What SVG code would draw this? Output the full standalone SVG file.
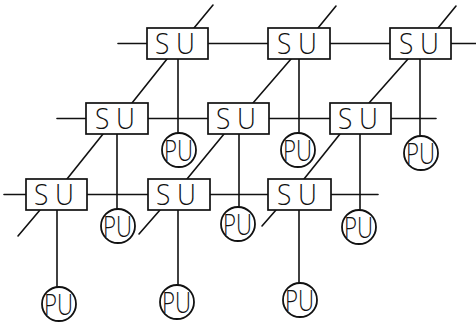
<svg xmlns="http://www.w3.org/2000/svg" width="476" height="326" viewBox="0 0 476 326">
  <style>
    .wire { stroke: #111; stroke-width: 1.6; fill: none; stroke-linecap: round; }
    .su rect { fill: #fff; stroke: #111; stroke-width: 1.7; }
    .pu circle { fill: #fff; stroke: #111; stroke-width: 1.8; }
    .lbl { font-family: "Open Sans", "Liberation Sans", Arial, sans-serif; font-weight: 300; font-size: 29px; fill: #111; }
  </style>
  <rect width="476" height="326" fill="#fff"/>

  <!-- connectors: row buses, stems to processing units, diagonal links between rows -->
  <g id="connectors" class="wire">
    <!-- horizontal row lines -->
    <line x1="118" y1="43.5" x2="476" y2="43.5"/>
    <line x1="57" y1="118.5" x2="436" y2="118.5"/>
    <line x1="4" y1="194.5" x2="378" y2="194.5"/>
    <!-- stems, row 1 -->
    <line x1="178" y1="59" x2="178" y2="133"/>
    <line x1="299" y1="59" x2="299" y2="133"/>
    <line x1="420" y1="59" x2="420" y2="136"/>
    <!-- stems, row 2 -->
    <line x1="117" y1="134" x2="117" y2="209"/>
    <line x1="239" y1="134" x2="239" y2="207"/>
    <line x1="360" y1="134" x2="360" y2="210"/>
    <!-- stems, row 3 -->
    <line x1="57" y1="210" x2="57" y2="287"/>
    <line x1="178" y1="210" x2="178" y2="285"/>
    <line x1="299" y1="210" x2="299" y2="283"/>
    <!-- diagonal chain, column 0 -->
    <line x1="213" y1="5" x2="194" y2="28"/>
    <line x1="167" y1="59" x2="132" y2="103"/>
    <line x1="103" y1="134" x2="67" y2="179"/>
    <line x1="40" y1="210" x2="18" y2="236"/>
    <!-- diagonal chain, column 1 -->
    <line x1="336" y1="6" x2="318" y2="28"/>
    <line x1="291" y1="59" x2="253" y2="103"/>
    <line x1="224" y1="134" x2="187" y2="179"/>
    <line x1="160" y1="210" x2="139" y2="234"/>
    <!-- diagonal chain, column 2 -->
    <line x1="456" y1="6" x2="438" y2="28"/>
    <line x1="408" y1="59" x2="369" y2="103"/>
    <line x1="340" y1="134" x2="304" y2="179"/>
    <line x1="276" y1="210" x2="262" y2="226"/>
  </g>

  <!-- switching units -->
  <g id="su-r1c0" class="su"><rect x="147" y="28" width="61" height="31"/><text class="lbl" x="155" y="54" textLength="40" lengthAdjust="spacingAndGlyphs">S U</text></g>
  <g id="su-r1c1" class="su"><rect x="268" y="28" width="62" height="31"/><text class="lbl" x="277" y="54" textLength="40" lengthAdjust="spacingAndGlyphs">S U</text></g>
  <g id="su-r1c2" class="su"><rect x="390" y="28" width="61" height="31"/><text class="lbl" x="399" y="54" textLength="40" lengthAdjust="spacingAndGlyphs">S U</text></g>

  <g id="su-r2c0" class="su"><rect x="86" y="103" width="62" height="31"/><text class="lbl" x="95" y="129" textLength="40" lengthAdjust="spacingAndGlyphs">S U</text></g>
  <g id="su-r2c1" class="su"><rect x="208" y="103" width="61" height="31"/><text class="lbl" x="216" y="129" textLength="40" lengthAdjust="spacingAndGlyphs">S U</text></g>
  <g id="su-r2c2" class="su"><rect x="330" y="103" width="61" height="31"/><text class="lbl" x="338" y="129" textLength="40" lengthAdjust="spacingAndGlyphs">S U</text></g>

  <g id="su-r3c0" class="su"><rect x="26" y="179" width="61" height="31"/><text class="lbl" x="34" y="205" textLength="40" lengthAdjust="spacingAndGlyphs">S U</text></g>
  <g id="su-r3c1" class="su"><rect x="148" y="179" width="62" height="31"/><text class="lbl" x="156" y="205" textLength="40" lengthAdjust="spacingAndGlyphs">S U</text></g>
  <g id="su-r3c2" class="su"><rect x="268" y="179" width="63" height="31"/><text class="lbl" x="277" y="205" textLength="40" lengthAdjust="spacingAndGlyphs">S U</text></g>

  <!-- processing units -->
  <g id="pu-r1c0" class="pu"><circle cx="179" cy="150" r="17"/><text class="lbl" x="164" y="161" textLength="29" lengthAdjust="spacingAndGlyphs">PU</text></g>
  <g id="pu-r1c1" class="pu"><circle cx="298" cy="150" r="17"/><text class="lbl" x="283" y="161" textLength="29" lengthAdjust="spacingAndGlyphs">PU</text></g>
  <g id="pu-r1c2" class="pu"><circle cx="421" cy="153" r="17"/><text class="lbl" x="406" y="164" textLength="29" lengthAdjust="spacingAndGlyphs">PU</text></g>

  <g id="pu-r2c0" class="pu"><circle cx="118" cy="226" r="17"/><text class="lbl" x="103" y="237" textLength="29" lengthAdjust="spacingAndGlyphs">PU</text></g>
  <g id="pu-r2c1" class="pu"><circle cx="238" cy="224" r="17"/><text class="lbl" x="223" y="235" textLength="29" lengthAdjust="spacingAndGlyphs">PU</text></g>
  <g id="pu-r2c2" class="pu"><circle cx="359" cy="227" r="17"/><text class="lbl" x="344" y="238" textLength="29" lengthAdjust="spacingAndGlyphs">PU</text></g>

  <g id="pu-r3c0" class="pu"><circle cx="59" cy="304" r="17"/><text class="lbl" x="44" y="315" textLength="29" lengthAdjust="spacingAndGlyphs">PU</text></g>
  <g id="pu-r3c1" class="pu"><circle cx="177" cy="302" r="17"/><text class="lbl" x="162" y="313" textLength="29" lengthAdjust="spacingAndGlyphs">PU</text></g>
  <g id="pu-r3c2" class="pu"><circle cx="300" cy="300" r="17"/><text class="lbl" x="285" y="311" textLength="29" lengthAdjust="spacingAndGlyphs">PU</text></g>
</svg>
